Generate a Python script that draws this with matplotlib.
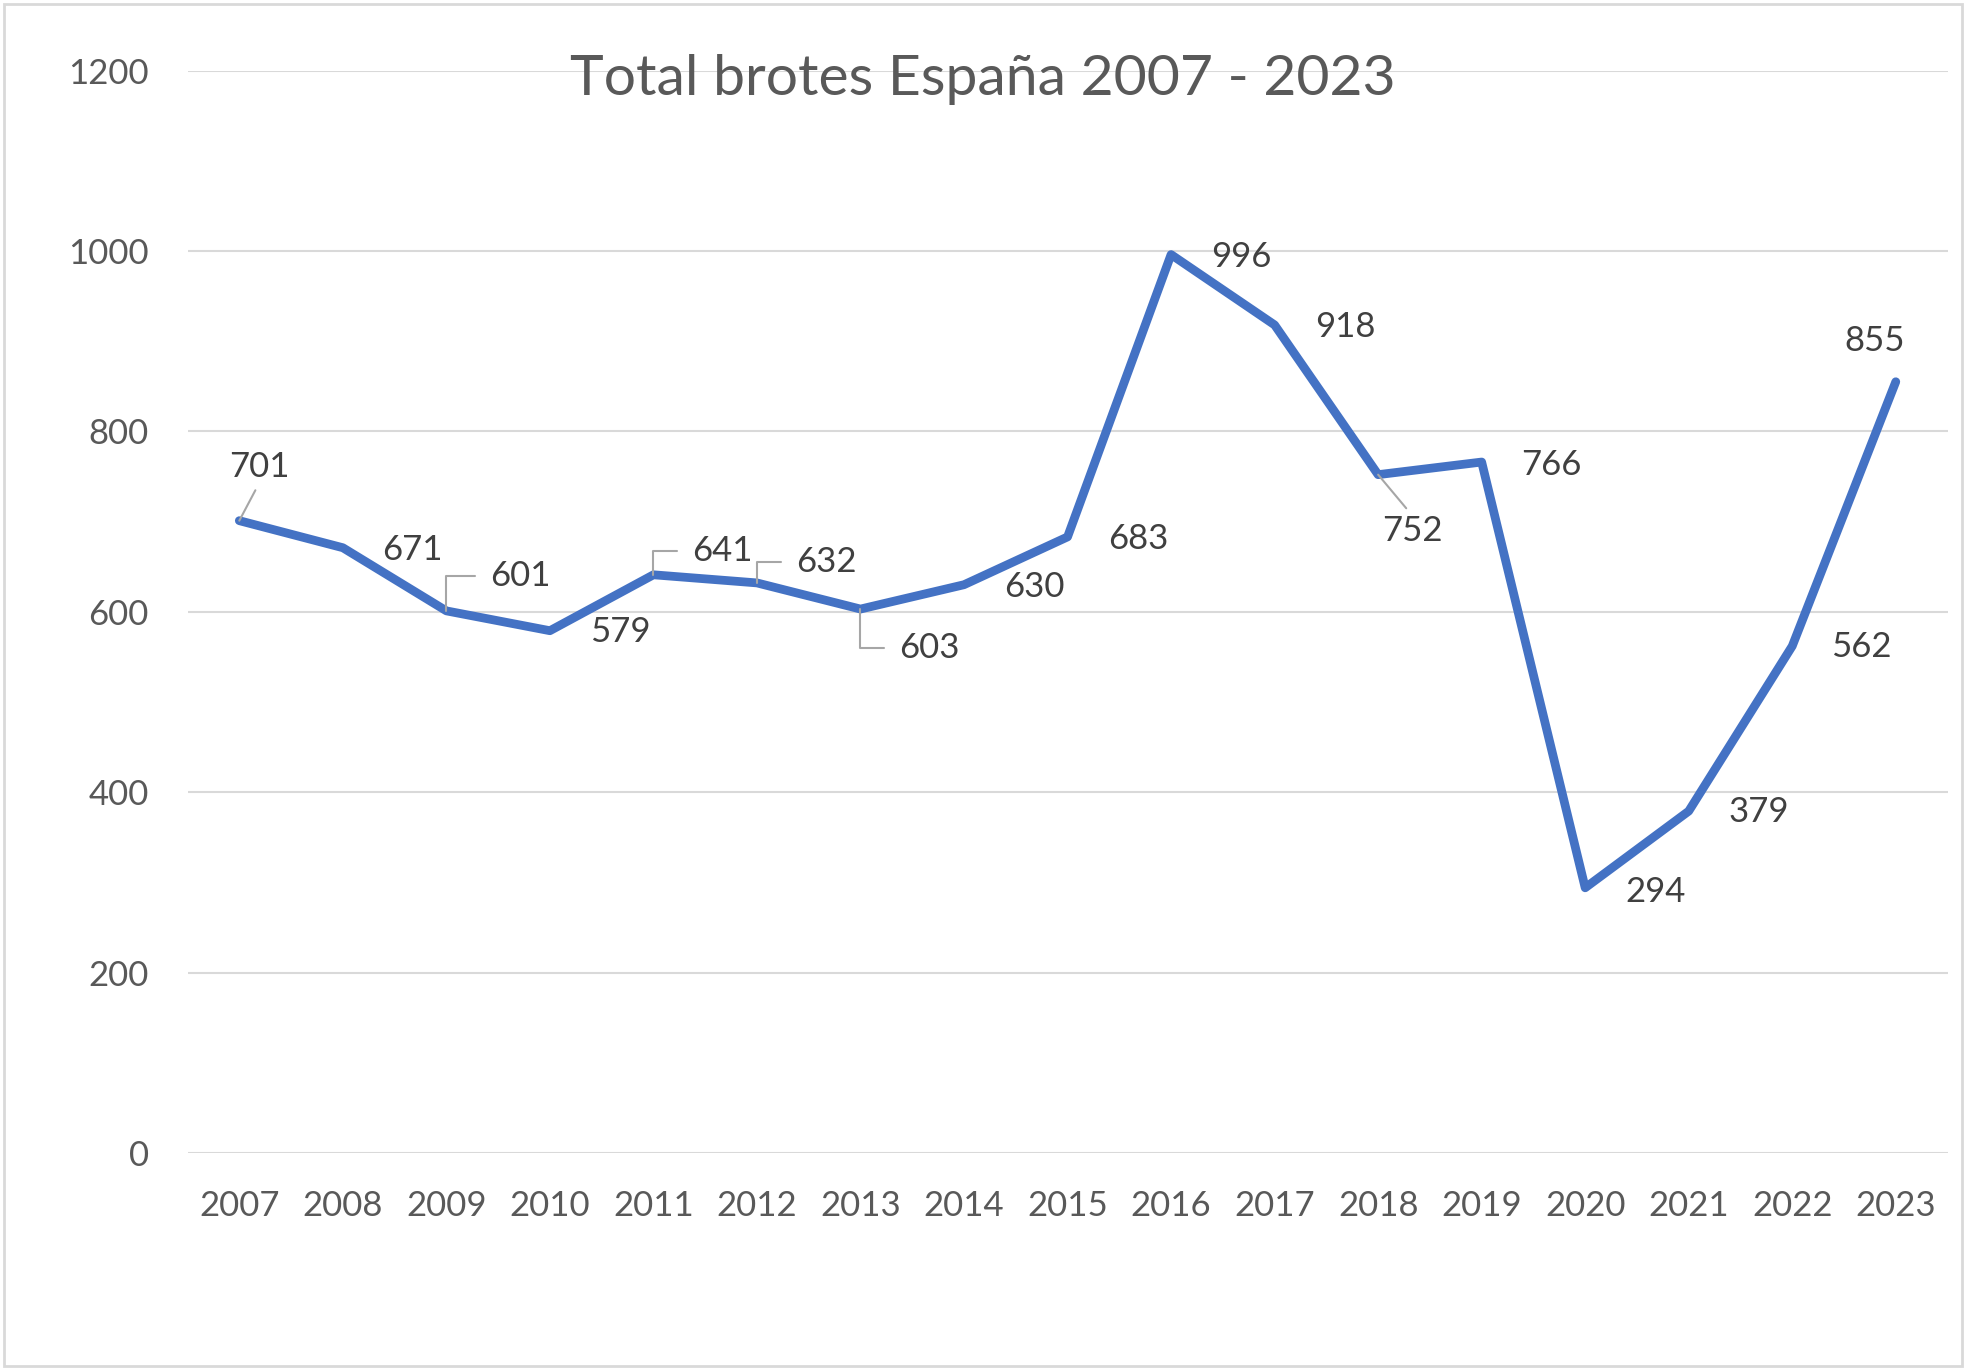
import matplotlib
matplotlib.use("Agg")
import matplotlib.pyplot as plt
from matplotlib.patches import Rectangle

plt.rcParams['font.family'] = ['Lato', 'DejaVu Sans']

# datos
years = ['2007', '2008', '2009', '2010', '2011', '2012', '2013', '2014', '2015',
         '2016', '2017', '2018', '2019', '2020', '2021', '2022', '2023']
brotes = [701, 671, 601, 579, 641, 632, 603, 630, 683,
          996, 918, 752, 766, 294, 379, 562, 855]
yticks = [0, 200, 400, 600, 800, 1000, 1200]

# label offsets (points) and leader style per point: None, 'line' or 'elbow'
k = 0.906
offsets = [(16, 43), (55, -2), (59, 28), (56, -1), (55, 19), (55, 17), (55, -31),
           (56, -2), (56, -2), (56, -2), (56, -2), (27, -45), (55, -2), (56, -3),
           (56, -1), (55, -1), (-17, 32)]
leaders = ['line', None, 'elbow', None, 'elbow', 'elbow', 'elbow', None, None,
           None, None, 'line', None, None, None, None, None]

fig = plt.figure(figsize=(19.7, 13.7), dpi=100)
ax = fig.add_axes([0.0952, 0.1584, 0.8934, 0.7901])

x = list(range(len(years)))
ax.plot(x, brotes, color='#4472C4', lw=6.3, solid_joinstyle='round',
        solid_capstyle='round', zorder=3)

for i, v in enumerate(brotes):
    dx, dy = offsets[i]
    kw = dict(textcoords='offset points', ha='center', va='center',
              fontsize=25, color='#404040', zorder=4)
    if leaders[i] == 'elbow':
        side = (0, 0.5)
        kw['arrowprops'] = dict(arrowstyle='-', color='#A6A6A6', lw=1.5,
                                connectionstyle='angle,angleA=0,angleB=90,rad=0',
                                relpos=side, shrinkA=9, shrinkB=0)
    elif leaders[i] == 'line':
        side = (0.5, 0) if dy > 0 else (0.5, 1)
        kw['arrowprops'] = dict(arrowstyle='-', color='#A6A6A6', lw=1.5,
                                relpos=side, shrinkA=4, shrinkB=0)
    ax.annotate(str(v), (i, v), xytext=(dx * k, dy * k), **kw)

ax.set_xlim(-0.5, len(years) - 0.5)
ax.set_ylim(0, 1200)
ax.set_xticks(x)
ax.set_xticklabels(years)
ax.set_yticks(yticks)
ax.grid(axis='y', color='#D9D9D9', lw=1.5)
ax.set_axisbelow(True)
for s in ax.spines.values():
    s.set_visible(False)
ax.tick_params(length=0, labelsize=25, colors='#595959')
ax.tick_params(axis='x', pad=27)
ax.tick_params(axis='y', pad=28)

fig.text(0.499, 0.942, 'Total brotes España 2007 - 2023', ha='center', va='center',
         fontsize=41, color='#595959')

fig.patches.append(Rectangle((0.002, 0.003), 0.994, 0.994, transform=fig.transFigure,
                             fill=False, edgecolor='#D9D9D9', lw=2))

fig.savefig('out.png', dpi=100, facecolor='white')
